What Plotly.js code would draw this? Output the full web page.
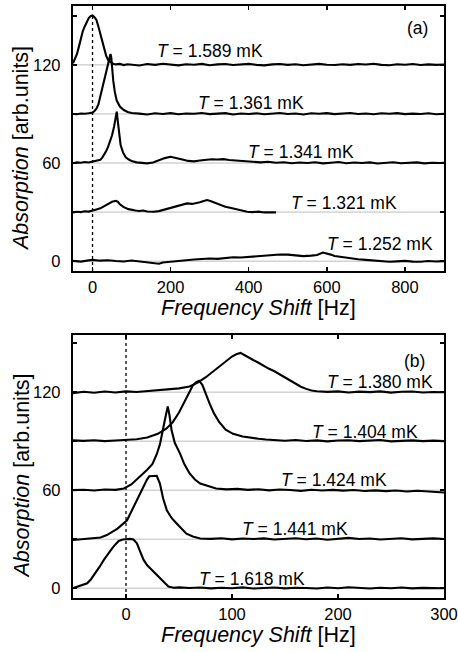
<!DOCTYPE html>
<html>
<head>
<meta charset="utf-8">
<script src="https://cdn.plot.ly/plotly-3.0.1.min.js"></script>
<style>html,body{margin:0;padding:0;background:#fff;}#chart{width:458px;height:652px;}</style>
</head>
<body>
<div id="chart"></div>
<script>
// ---------- Panel (a) data ----------
const a1x = [-50,-45,-40,-35,-30,-25,-20,-15,-10,-5,0,5,10,15,20,25,30,35,40,45,50,55,60,70,80,90,100,120,140,160,180,200,220,240,260,280,300,320,340,360,380,400,420,440,460,480,500,520,540,560,580,600,620,640,660,680,700,720,740,760,780,800,820,840,860,880,900];
const a1y = [121.0,123.5,126.5,131,136,140.5,143.5,146.5,148.5,149.8,150.2,149.2,147.5,143.5,138.5,134,129,125.5,123,121.8,121,120.5,120.3,120.6,119.9,120.4,120.1,119.6,120.5,120.0,120.7,120.2,119.7,120.4,120.1,120.6,119.8,120.3,120.5,119.9,120.2,120.6,120.0,119.7,120.3,120.5,120.0,120.4,119.8,120.2,120.6,120.1,119.9,120.4,120.0,120.5,120.2,120.7,120.0,119.8,120.4,120.1,120.5,119.9,120.3,120.0,120.2];

const a2x = [-50,-40,-30,-20,-10,0,5,10,15,20,25,30,35,40,43,46,48,50,53,57,62,70,80,90,100,120,140,160,180,200,220,240,260,280,300,320,340,360,380,400,420,440,460,480,500,520,540,560,580,600,620,640,660,680,700,720,740,760,780,800,820,840,860,880,900];
const a2y = [90.0,89.8,90.3,90.1,90.4,90.8,91.8,93.2,95.8,100.5,106.5,111.5,115.5,120,123.5,126.7,124.5,118.5,110.5,103.5,98.2,94.5,92.4,91.2,90.6,90.2,89.7,90.4,90.0,90.5,89.8,90.3,90.1,90.6,89.9,90.2,90.5,89.7,90.3,90.0,90.4,89.8,90.2,90.6,90.0,90.3,89.7,90.4,90.1,90.5,89.9,90.2,90.6,90.0,90.3,89.8,90.4,90.1,90.5,89.9,90.2,90.0,90.4,89.8,90.1];

const a3x = [-50,-40,-30,-20,-10,0,10,20,25,30,35,40,45,50,55,58,62,65,68,72,78,85,92,100,113,125,140,155,170,185,200,215,230,245,260,275,290,305,320,335,350,370,390,410,430,450,470,490,510,530,550,570,590,610,630,650,670,690,710,730,750,770,790,810,830,850,870,890,900];
const a3y = [59.8,60.4,60.2,60.6,60.3,60.8,61.2,62.0,63.3,65.2,67.3,70,73.5,77,82,86.5,91.4,85,77,71,66.5,63.5,62.3,61.2,60.4,60.0,59.8,60.3,61.6,63,63.8,63.2,62.2,61.3,61,61.5,62.0,62.3,62.2,62.4,61.8,61.5,61,60.7,60.4,60.8,60.2,60.5,59.9,60.3,60.0,60.5,59.8,60.2,60.6,59.9,60.3,60.0,60.4,59.7,60.2,60.5,59.9,60.1,60.4,59.8,60.2,60.0,60.1];

const a4x = [-50,-40,-30,-20,-10,0,10,20,30,40,50,60,65,70,80,92,100,110,120,130,140,156,170,185,199,215,230,242,255,263,275,285,293,300,310,327,340,355,370,385,396,410,425,440,455,470];
const a4y = [29.8,30.2,30.0,30.5,30.3,30.8,31.6,32.3,33.5,35,36.3,36.9,36.3,34.8,33,31.8,31.3,31.0,30.7,31.0,30.4,30.2,30.6,31.5,32.3,33.5,34.4,35.3,35.0,35.3,36,36.8,37.4,37,36.0,34.3,33.3,32.5,31.6,30.8,30.2,30.0,30.3,29.8,30.0,29.8];

const a5x = [-50,-30,-10,0,20,40,60,80,100,120,140,160,170,180,200,220,240,260,280,300,320,340,360,380,400,420,440,460,480,500,520,540,560,575,590,600,610,620,640,660,680,700,720,740,760,780,800,820,840,860,880,900];
const a5y = [0.2,-0.3,0.5,0.8,0.3,0.6,0.1,-0.2,0.4,-0.3,-0.6,-1.4,-1.6,-0.8,-0.2,0.3,0.6,1.0,1.4,1.6,1.4,2.0,2.4,2.2,2.6,3.0,3.2,3.7,4.1,4.0,3.5,3.1,3.4,3.8,5.3,4.8,4.0,3.2,2.4,1.6,1.2,0.8,0.5,0.0,-0.4,-0.1,0.2,-0.3,-0.4,0.1,-0.2,0.0];

// ---------- Panel (b) data ----------
const b1x = [-50,-40,-30,-20,-10,0,10,20,30,40,50,60,68,75,80,85,90,95,100,104,108,112,116,120,125,130,135,140,145,150,155,160,165,170,175,180,190,200,210,220,230,240,250,260,270,280,290,300];
const b1y = [119.4,120.2,119.6,120.4,119.8,120.5,120.1,120.6,121,121.8,122.3,123.5,126,129,131.5,134.2,136.8,139.2,141.8,143.2,144,142.6,141,139.7,138,136,134.3,132.8,130.8,129,127,125,123.3,122,121,120.6,120.2,120.5,119.8,120.3,120.0,120.5,119.7,120.2,120.4,119.8,120.1,119.9];

const b2x = [-50,-40,-30,-20,-10,0,10,20,30,38,44,50,55,59,63,66,69,72,75,79,83,88,94,101,110,117,125,132,140,150,160,170,180,190,200,210,220,230,240,250,260,270,280,290,300];
const b2y = [90.5,90.2,90.6,90.0,90.4,90.8,91.2,92.2,94.5,97.6,101.5,107.5,114,119.5,124,126,127,124.5,119,112.8,107,101.6,97,94.5,92.8,92,91.5,91,90.8,90.3,90.7,90.1,90.5,89.9,90.4,90.6,90.0,90.3,90.7,89.9,90.2,90.5,90.0,90.3,90.0];

const b3x = [-50,-40,-30,-20,-10,-2,5,13,20,25,29,32,35,37,39.4,41,43,46,51,55,60,65,70,77,85,95,105,115,125,135,145,155,165,175,185,195,205,215,225,235,245,255,265,275,285,295,300];
const b3y = [60,60.3,59.8,60.4,60.2,61,63.5,68,72.5,76,82,88,96.6,104,111.3,106,96.6,89,82.4,76,70.2,66.5,64.1,62.5,61,60.5,60.8,60.2,60.6,59.9,60.4,60.1,59.6,60.3,59.8,60.2,59.7,60.1,59.5,59.9,59.4,59.8,59.2,59.6,59.1,58.8,58.6];

const b4x = [-50,-40,-30,-24,-18,-8,1,7,13.5,19.8,22,26,29,32,35,38.5,43,48,53,57,63,70,80,90,100,110,120,130,140,150,160,170,180,190,200,210,220,230,240,250,260,270,280,290,300];
const b4y = [29.5,30.0,30.3,31,32.5,36.5,41.6,49.7,57.9,66.5,68.5,68.5,68.8,64,55,47.7,43,39.5,36,33.4,31.6,30.4,30.2,30.6,29.9,30.4,30.1,30.5,29.8,30.3,30.6,30.0,30.4,29.7,30.2,30.8,30.1,30.4,29.8,30.3,30.6,29.9,30.2,30.5,30.1];

const b5x = [-50,-45,-40,-36.6,-33,-28.8,-25,-20.9,-17,-13.1,-10,-6.9,-3,0,4,7,10.3,13,16.6,20,26,30,35,40,45,50,60,70,80,90,100,110,120,130,140,150,160,170,180,190,200,210,220,230,240,250,260,270,280,290,300];
const b5y = [0,1,2,3,5.5,9.1,13,17.3,21,24.4,26.8,28.9,29.8,30.1,30.2,29.8,27.5,23,17.3,14,10.2,7.5,4.1,1,0.3,0.5,0.1,0.4,-0.1,0.3,0.0,0.5,-0.2,0.2,0.4,-0.1,0.3,0.1,-0.2,0.4,0.0,0.6,0.1,-0.2,0.3,0.0,0.4,-0.1,0.2,0.3,0.0];

const labelsA = ['1.589','1.361','1.341','1.321','1.252'];
const labelsB = ['1.380','1.404','1.424','1.441','1.618'];
const baselines = [0,30,60,90,120];
const yTicks = [0,30,60,90,120,150];
const yTickText = ['0','','60','','120',''];
const xTicksA = [0,200,400,600,800];
const xTicksB = [0,100,200,300];

// ---------- Build ----------
const FONT = 'Liberation Sans, Arial, Helvetica, sans-serif';
const line = {color:'#000', width:2.1};
const tr = (x,y,xa,ya) => ({x:x, y:y, xaxis:xa, yaxis:ya, type:'scatter', mode:'lines', line:line, hoverinfo:'skip', showlegend:false});
const data = [
  tr(a1x,a1y,'x','y'), tr(a2x,a2y,'x','y'), tr(a3x,a3y,'x','y'), tr(a4x,a4y,'x','y'), tr(a5x,a5y,'x','y'),
  tr(b1x,b1y,'x2','y2'), tr(b2x,b2y,'x2','y2'), tr(b3x,b3y,'x2','y2'), tr(b4x,b4y,'x2','y2'), tr(b5x,b5y,'x2','y2')
];

const shapes = [];
baselines.forEach(b => {
  shapes.push({type:'line', xref:'x domain', yref:'y', x0:0, x1:1, y0:b, y1:b, line:{color:'#bdbdbd', width:1}, layer:'below'});
  shapes.push({type:'line', xref:'x2 domain', yref:'y2', x0:0, x1:1, y0:b, y1:b, line:{color:'#bdbdbd', width:1}, layer:'below'});
});
shapes.push({type:'line', xref:'x', yref:'y', x0:0, x1:0, y0:-6, y1:150, line:{color:'#000', width:1.3, dash:'3px,3px'}});
shapes.push({type:'line', xref:'x2', yref:'y2 domain', x0:0, x1:0, y0:0, y1:1, line:{color:'#000', width:1.3, dash:'3px,3px'}});

// label positions (data coordinates)
const posA = [[301,128.6],[407,96.8],[533,66.9],[643,35.8],[736,10.4]];
const posB = [[240,126.5],[225,95.5],[196,66.4],[159,36.2],[119,5.7]];
const TF = {family:FONT, size:17.5, color:'#000'};
const annotations = [];
labelsA.forEach((t,i) => annotations.push({xref:'x', yref:'y', x:posA[i][0], y:posA[i][1], text:'<i>T</i> = '+t+' mK', showarrow:false, font:TF, xanchor:'center', yanchor:'middle'}));
labelsB.forEach((t,i) => annotations.push({xref:'x2', yref:'y2', x:posB[i][0], y:posB[i][1], text:'<i>T</i> = '+t+' mK', showarrow:false, font:TF, xanchor:'center', yanchor:'middle'}));
annotations.push({xref:'x', yref:'y', x:832, y:142.7, text:'(a)', showarrow:false, font:TF, xanchor:'center', yanchor:'middle'});
annotations.push({xref:'x2', yref:'y2', x:272, y:139.3, text:'(b)', showarrow:false, font:TF, xanchor:'center', yanchor:'middle'});
// axis titles
const yTitle = '<i>Absorption</i> [arb.units]';
const xTitle = '<i>Frequency Shift</i> [Hz]';
const AF = {family:FONT, size:21.5, color:'#000'};
annotations.push({xref:'paper', yref:'paper', x:-0.14, y:0.7584, text:yTitle, textangle:-90, showarrow:false, font:AF, xanchor:'center', yanchor:'middle'});
annotations.push({xref:'paper', yref:'paper', x:-0.14, y:0.2052, text:yTitle, textangle:-90, showarrow:false, font:AF, xanchor:'center', yanchor:'middle'});
annotations.push({xref:'paper', yref:'paper', x:0.5013, y:0.4900, text:xTitle, showarrow:false, font:AF, xanchor:'center', yanchor:'middle'});
annotations.push({xref:'paper', yref:'paper', x:0.5013, y:-0.0625, text:xTitle, showarrow:false, font:AF, xanchor:'center', yanchor:'middle'});

const axCommon = {showline:true, linecolor:'#000', linewidth:2.2, mirror:'ticks', ticks:'inside', ticklen:4, tickwidth:1.5, tickcolor:'#000', showgrid:false, zeroline:false, tickfont:{family:FONT, size:16.5, color:'#000'}, fixedrange:true};

const layout = {
  width:458, height:652,
  margin:{l:73, r:14, t:6, b:54},
  paper_bgcolor:'#fff', plot_bgcolor:'#fff',
  showlegend:false,
  xaxis: Object.assign({}, axCommon, {domain:[0,1], anchor:'y', range:[-50,900], tickmode:'array', tickvals:xTicksA, ticklabelstandoff:0}),
  yaxis: Object.assign({}, axCommon, {domain:[0.5524,1], anchor:'x', range:[-6,156], tickmode:'array', tickvals:yTicks, ticktext:yTickText, ticklabelstandoff:7}),
  xaxis2: Object.assign({}, axCommon, {domain:[0,1], anchor:'y2', range:[-50,300], tickmode:'array', tickvals:xTicksB, ticklabelstandoff:0}),
  yaxis2: Object.assign({}, axCommon, {domain:[0,0.4443], anchor:'x2', range:[-6,155], tickmode:'array', tickvals:yTicks, ticktext:yTickText, ticklabelstandoff:7}),
  shapes:shapes,
  annotations:annotations
};

Plotly.newPlot('chart', data, layout, {staticPlot:true, displayModeBar:false});
</script>
</body>
</html>
